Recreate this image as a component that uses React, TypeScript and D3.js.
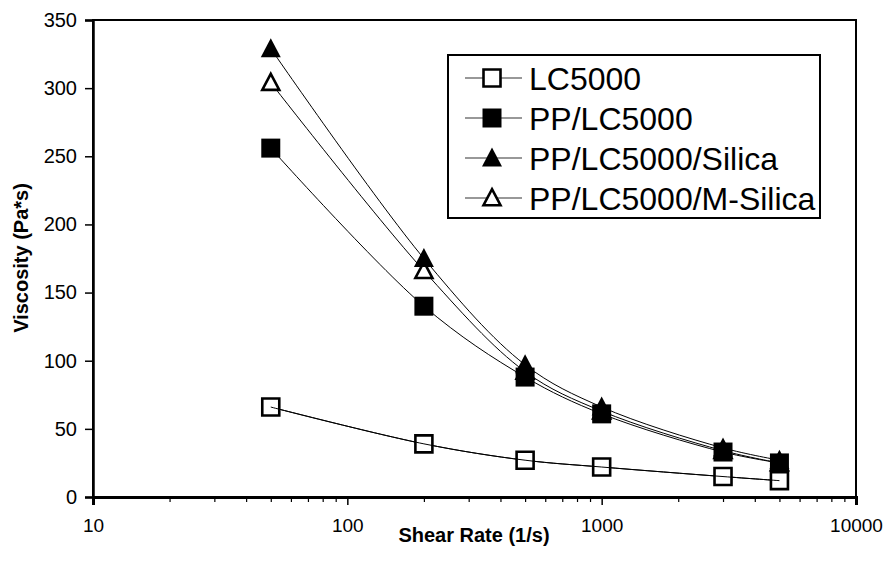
import React, { useEffect, useRef } from 'react';
import * as d3 from 'd3';

const shearRates = [50, 200, 500, 1000, 3000, 5000];
const lc5000 = [66, 39, 27, 22, 15, 12];
const ppLc5000 = [256, 140, 88, 61, 33, 25];
const ppSilica = [329, 175, 97, 66, 36, 27];
const ppMSilica = [304, 166, 92, 63, 34, 25];
const seriesNames = ['LC5000', 'PP/LC5000', 'PP/LC5000/Silica', 'PP/LC5000/M-Silica'];
const yTicks = [0, 50, 100, 150, 200, 250, 300, 350];
const xTicks = [10, 100, 1000, 10000];

const App = () => {
    const ref = useRef(null);

    useEffect(() => {
        const svg = d3.select(ref.current);
        svg.selectAll('*').remove();

        const left = 93, right = 856, top = 20, bottom = 497;
        const font = 'Arial, "Liberation Sans", sans-serif';

        const x = d3.scaleLog().domain([10, 10000]).range([left, right]);
        const y = d3.scaleLinear().domain([0, 350]).range([bottom, top]);

        const series = [
            { name: seriesNames[0], values: lc5000, shape: 'square', filled: false },
            { name: seriesNames[1], values: ppLc5000, shape: 'square', filled: true },
            { name: seriesNames[2], values: ppSilica, shape: 'triangle', filled: true },
            { name: seriesNames[3], values: ppMSilica, shape: 'triangle', filled: false },
        ];

        // marker path centered on 0,0
        const markerPath = (shape, filled) => {
            if (shape === 'square') {
                const h = filled ? 9.5 : 8.5;
                return `M${-h},${-h}H${h}V${h}H${-h}Z`;
            }
            const w = filled ? 10 : 8.5;
            const hgt = filled ? 19 : 16;
            return `M0,${-hgt * 0.55}L${w},${hgt * 0.45}L${-w},${hgt * 0.45}Z`;
        };

        // plot border
        svg.append('rect')
            .attr('x', left).attr('y', top)
            .attr('width', right - left).attr('height', bottom - top)
            .attr('fill', 'none').attr('stroke', '#000').attr('stroke-width', 2);

        // y axis
        const yAxis = svg.append('g')
            .attr('transform', `translate(${left},0)`)
            .call(d3.axisLeft(y).tickValues(yTicks).tickSize(8).tickPadding(8));
        yAxis.select('.domain').attr('stroke-width', 2.5);
        yAxis.selectAll('.tick line').attr('stroke-width', 1.5);
        yAxis.selectAll('text').attr('font-family', font).attr('font-size', 20).attr('fill', '#000');

        // x axis: minor ticks
        const minor = [];
        [10, 100, 1000].forEach(d => { for (let k = 2; k <= 9; k++) minor.push(d * k); });
        svg.append('g')
            .attr('transform', `translate(0,${bottom})`)
            .call(d3.axisBottom(x).tickValues(minor).tickSize(5).tickFormat(() => ''))
            .call(g => g.select('.domain').remove())
            .selectAll('.tick line').attr('stroke-width', 1.2);

        const xAxis = svg.append('g')
            .attr('transform', `translate(0,${bottom})`)
            .call(d3.axisBottom(x).tickValues(xTicks).tickSize(8).tickPadding(14).tickFormat(d3.format('d')));
        xAxis.select('.domain').attr('stroke-width', 3);
        xAxis.selectAll('.tick line').attr('stroke-width', 1.5);
        xAxis.selectAll('text').attr('font-family', font).attr('font-size', 19).attr('fill', '#000');

        // axis titles
        svg.append('text')
            .attr('x', 474).attr('y', 542)
            .attr('text-anchor', 'middle')
            .attr('font-family', font).attr('font-weight', 'bold').attr('font-size', 20)
            .text('Shear Rate (1/s)');
        svg.append('text')
            .attr('transform', 'translate(28,258) rotate(-90)')
            .attr('text-anchor', 'middle')
            .attr('font-family', font).attr('font-weight', 'bold').attr('font-size', 20)
            .text('Viscosity (Pa*s)');

        const line = d3.line()
            .x((d, i) => x(shearRates[i]))
            .y(d => y(d))
            .curve(d3.curveCatmullRom.alpha(0.5));

        // draw order: open triangles first, open squares last
        [3, 2, 1, 0].forEach(si => {
            const s = series[si];
            svg.append('path')
                .attr('d', line(s.values))
                .attr('fill', 'none').attr('stroke', '#000').attr('stroke-width', 1);
            svg.append('g').selectAll('path')
                .data(s.values)
                .join('path')
                .attr('transform', (d, i) => `translate(${x(shearRates[i])},${y(d)})`)
                .attr('d', markerPath(s.shape, s.filled))
                .attr('fill', s.filled ? '#000' : '#fff')
                .attr('stroke', '#000')
                .attr('stroke-width', s.filled ? 0 : 2.6);
            if (!s.filled && s.shape === 'square') {
                svg.append('path')
                    .attr('d', line(s.values))
                    .attr('fill', 'none').attr('stroke', '#000').attr('stroke-width', 1);
            }
        });

        // legend
        const lg = svg.append('g');
        lg.append('rect')
            .attr('x', 448).attr('y', 55).attr('width', 372).attr('height', 163)
            .attr('fill', '#fff').attr('stroke', '#000').attr('stroke-width', 2);
        const rowY = d3.scalePoint().domain(seriesNames).range([78, 198]);
        series.forEach(s => {
            const cy = rowY(s.name);
            lg.append('line')
                .attr('x1', 465).attr('x2', 522).attr('y1', cy).attr('y2', cy)
                .attr('stroke', '#333').attr('stroke-width', 1.2);
            lg.append('path')
                .attr('transform', `translate(492,${cy})`)
                .attr('d', markerPath(s.shape, s.filled))
                .attr('fill', s.filled ? '#000' : '#fff')
                .attr('stroke', '#000')
                .attr('stroke-width', s.filled ? 0 : 2.6);
            lg.append('text')
                .attr('x', 529).attr('y', cy)
                .attr('dy', '0.36em')
                .attr('font-family', font).attr('font-size', 32)
                .text(s.name);
        });
    }, []);

    return (
        <svg ref={ref} width={885} height={562}
            style={{ position: 'absolute', left: 0, top: 0, background: '#fff' }} />
    );
};

export default App;
